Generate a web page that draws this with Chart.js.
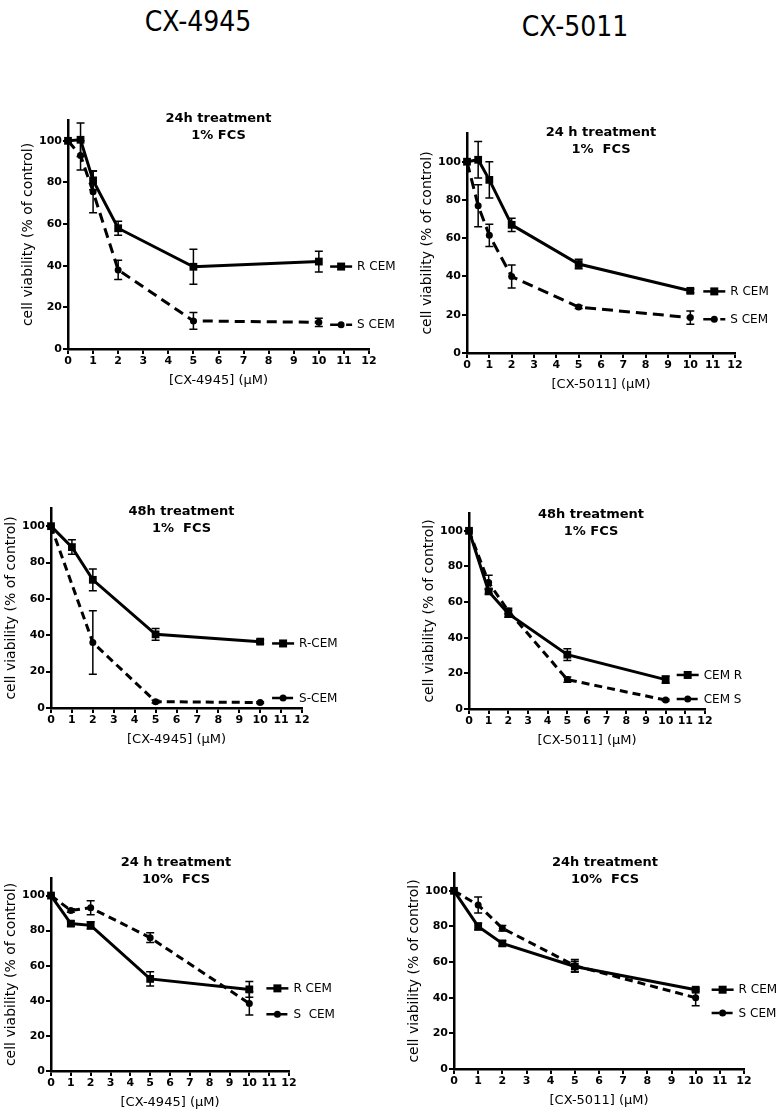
<!DOCTYPE html>
<html>
<head>
<meta charset="utf-8">
<script src="https://cdn.jsdelivr.net/npm/chart.js@4.4.1/dist/chart.umd.min.js"></script>
<style>
  body { margin: 0; background: #fff; }
  #page { position: relative; width: 783px; height: 1113px; overflow: hidden; }
  #page canvas { position: absolute; }
  .head { position: absolute; font-family: "DejaVu Sans Condensed", "DejaVu Sans"; font-stretch: condensed;
          font-size: 28px; transform: translate(-50%, -50%); white-space: nowrap; }
</style>
</head>
<body>
<div id="page">
  <div class="head" style="left:198px; top:21px;">CX-4945</div>
  <div class="head" style="left:575px; top:26px;">CX-5011</div>
</div>
<script>
// Data (concentration in uM, viability in % of control, +/- error)
const concA = [0, 0.5, 1, 2, 5, 10];
const rA = [100, 100.5, 81, 58, 39.5, 42];
const rErrA = [0, 8, 4.5, 3.4, 8.4, 5];
const sA = [100, 93, 75.5, 38, 13.5, 12.8];
const sErrA = [0, 7, 10, 4.6, 4, 2];

const concB = [0, 0.5, 1, 2, 5, 10];
const rB = [100, 101, 90.5, 67, 46.5, 32.5];
const rErrB = [0, 9.5, 9.5, 3.5, 2.5, 1];
const sB = [100, 77, 61.5, 40, 24, 18.5];
const sErrB = [0, 11, 5.8, 6, 0.8, 3.5];

const concC = [0, 1, 2, 5, 10];
const rC = [100, 88.5, 70.5, 40.5, 36.5];
const rErrC = [0, 4, 6, 3.2, 1];
const sC = [100, null, 36, 3.5, 3];
const sErrC = [0, 0, 17.5, 0.8, 0.5];

const concD = [0, 1, 2, 5, 10];
const rD = [100, 66, 53.5, 30.5, 16.5];
const rErrD = [0, 1.5, 2, 3.3, 2];
const sD = [100, 71, 55, 16.5, 5];
const sErrD = [0, 4, 1.5, 1.5, 0.5];

const concE = [0, 1, 2, 5, 10];
const rE = [100, 84, 83, 52.5, 46.5];
const rErrE = [0, 1.5, 2, 4, 4.5];
const sE = [100, 91.5, 93, 76, 38.5];
const sErrE = [0, 1, 4, 2.8, 6.6];

const concF = [0, 1, 2, 5, 10];
const rF = [100, 80, 70.5, 57.5, 44.5];
const rErrF = [0, 2, 1.5, 3, 1];
const sF = [100, 92, 79, 58, 40];
const sErrF = [0, 4.5, 1.5, 3.5, 4.5];

const xTicks = [0, 1, 2, 3, 4, 5, 6, 7, 8, 9, 10, 11, 12];
const yTicks = [0, 20, 40, 60, 80, 100];

// Panel layout (pixel box of the plot area, title and legend placement)
const panels = [
  { conc: concA, r: rA, rErr: rErrA, s: sA, sErr: sErrA, labels: ['R CEM', 'S CEM'],
    title: ['24h treatment', '1% FCS'], xTitle: '[CX-4945] (μM)',
    box: [68, 369, 120, 349], ymax: 110, titleDy: -1, titleDx: 0,
    legendX: 10.45, legendY: [39.6, 11.6], dash: [10, 6] },
  { conc: concB, r: rB, rErr: rErrB, s: sB, sErr: sErrB, labels: ['R CEM', 'S CEM'],
    title: ['24 h treatment', '1%  FCS'], xTitle: '[CX-5011] (μM)',
    box: [467, 735, 133, 353], ymax: 115, titleDy: 0, titleDx: 0,
    legendX: 10.58, legendY: [32.2, 17.7], dash: [11, 6] },
  { conc: concC, r: rC, rErr: rErrC, s: sC, sErr: sErrC, labels: ['R-CEM', 'S-CEM'],
    title: ['48h treatment', '1%  FCS'], xTitle: '[CX-4945] (μM)',
    box: [51, 302, 508, 708], ymax: 110, titleDy: 4, titleDx: 5,
    legendX: 10.57, legendY: [35.5, 5.5], dash: [8, 5] },
  { conc: concD, r: rD, rErr: rErrD, s: sD, sErr: sErrD, labels: ['CEM R', 'CEM S'],
    title: ['48h treatment', '1% FCS'], xTitle: '[CX-5011] (μM)',
    box: [469, 705, 513, 709], ymax: 110, titleDy: 2, titleDx: 4,
    legendX: 10.56, legendY: [19.1, 5.6], dash: [8, 5] },
  { conc: concE, r: rE, rErr: rErrE, s: sE, sErr: sErrE, labels: ['R CEM', 'S  CEM'],
    title: ['24 h treatment', '10%  FCS'], xTitle: '[CX-4945] (μM)',
    box: [51, 289, 878, 1071], ymax: 110, titleDy: -15, titleDx: 6,
    legendX: 10.86, legendY: [47.1, 32.3], dash: [8, 5] },
  { conc: concF, r: rF, rErr: rErrF, s: sF, sErr: sErrF, labels: ['R CEM', 'S CEM'],
    title: ['24h treatment', '10%  FCS'], xTitle: '[CX-5011] (μM)',
    box: [454, 744, 873, 1069], ymax: 110, titleDy: -10, titleDx: 6,
    legendX: 10.66, legendY: [44.5, 31.4], dash: [8, 5] }
];

const Y_W = 48, X_H = 39, PAD_T = 30, PAD_R = 50;
const FONT = '"DejaVu Sans", sans-serif';

// Error bars with caps
const errorBars = {
  id: 'errorBars',
  afterDatasetsDraw(chart) {
    const { ctx, scales: { x, y } } = chart;
    ctx.save();
    ctx.strokeStyle = '#000';
    ctx.lineWidth = 1.5;
    chart.data.datasets.forEach(ds => {
      ds.data.forEach((p, j) => {
        const e = ds.errors[j];
        if (p.y == null || !e) return;
        const px = x.getPixelForValue(p.x);
        const top = y.getPixelForValue(p.y + e);
        const bot = y.getPixelForValue(p.y - e);
        ctx.beginPath();
        ctx.moveTo(px, top); ctx.lineTo(px, bot);
        ctx.moveTo(px - 4, top); ctx.lineTo(px + 4, top);
        ctx.moveTo(px - 4, bot); ctx.lineTo(px + 4, bot);
        ctx.stroke();
      });
    });
    ctx.restore();
  }
};

// Panel title and legend entries drawn inside the plot
const panelText = {
  id: 'panelText',
  afterDraw(chart, args, opts) {
    const { ctx, chartArea: a, scales: { x, y } } = chart;
    ctx.save();
    ctx.fillStyle = '#000';
    ctx.strokeStyle = '#000';
    ctx.textBaseline = 'middle';
    ctx.textAlign = 'center';
    ctx.font = 'bold 13px ' + FONT;
    const cx = (a.left + a.right) / 2 + opts.titleDx;
    opts.title.forEach((t, k) => ctx.fillText(t, cx, a.top + opts.titleDy + k * 17));

    ctx.textAlign = 'left';
    ctx.font = '12px ' + FONT;
    chart.data.datasets.forEach((ds, i) => {
      const lx = x.getPixelForValue(opts.legendX);
      const ly = y.getPixelForValue(opts.legendY[i]);
      ctx.lineWidth = 2.5;
      ctx.setLineDash(ds.borderDash || []);
      ctx.beginPath();
      ctx.moveTo(lx, ly); ctx.lineTo(lx + 22, ly);
      ctx.stroke();
      ctx.setLineDash([]);
      ctx.beginPath();
      if (ds.pointStyle === 'rect') ctx.rect(lx + 7, ly - 4, 8, 8);
      else ctx.arc(lx + 11, ly, 3.5, 0, Math.PI * 2);
      ctx.fill();
      ctx.fillText(ds.label, lx + 27, ly + 0.5);
    });
    ctx.restore();
  }
};

const page = document.getElementById('page');

panels.forEach(p => {
  const [left, right, top, bottom] = p.box;
  const cLeft = left - Y_W, cTop = top - PAD_T;
  const w = right - cLeft + PAD_R, h = bottom - cTop + X_H;
  const canvas = document.createElement('canvas');
  canvas.width = w; canvas.height = h;
  canvas.style.left = cLeft + 'px';
  canvas.style.top = cTop + 'px';
  page.appendChild(canvas);

  const pts = (xs, ys) => xs.map((v, i) => ({ x: v, y: ys[i] }));

  new Chart(canvas, {
    type: 'line',
    data: {
      datasets: [
        { label: p.labels[0], data: pts(p.conc, p.r), errors: p.rErr,
          borderColor: '#000', backgroundColor: '#000', borderWidth: 3, clip: false,
          pointStyle: 'rect', pointRadius: 5.5, pointBorderWidth: 0, tension: 0 },
        { label: p.labels[1], data: pts(p.conc, p.s), errors: p.sErr,
          borderColor: '#000', backgroundColor: '#000', borderWidth: 3, borderDash: p.dash, clip: false,
          pointStyle: 'circle', pointRadius: 3.5, pointBorderWidth: 0, tension: 0, spanGaps: true }
      ]
    },
    options: {
      responsive: false,
      animation: false,
      layout: { padding: { top: PAD_T, right: PAD_R, left: 0, bottom: 0 } },
      plugins: {
        legend: { display: false },
        tooltip: { enabled: false },
        panelText: { title: p.title, titleDy: p.titleDy, titleDx: p.titleDx,
                     legendX: p.legendX, legendY: p.legendY }
      },
      scales: {
        x: {
          type: 'linear', min: 0, max: 12,
          afterFit: s => { s.height = X_H; },
          afterBuildTicks: s => { s.ticks = xTicks.map(v => ({ value: v })); },
          grid: { drawOnChartArea: false, drawTicks: true, tickLength: 5, color: '#000', lineWidth: 2 },
          border: { color: '#000', width: 2.5 },
          ticks: { color: '#000', padding: 1, maxRotation: 0, autoSkip: false,
                   font: { family: FONT, size: 11, weight: 'bold' } },
          title: { display: true, text: p.xTitle, color: '#000', padding: 0,
                   font: { family: FONT, size: 13 } }
        },
        y: {
          min: 0, max: p.ymax,
          afterFit: s => { s.width = Y_W; },
          afterBuildTicks: s => { s.ticks = yTicks.map(v => ({ value: v })); },
          grid: { drawOnChartArea: false, drawTicks: true, tickLength: 5, color: '#000', lineWidth: 2 },
          border: { color: '#000', width: 2.5 },
          ticks: { color: '#000', padding: 1,
                   font: { family: FONT, size: 11, weight: 'bold' } },
          title: { display: true, text: 'cell viability (% of control)', color: '#000', padding: 0,
                   font: { family: FONT, size: 14 } }
        }
      }
    },
    plugins: [errorBars, panelText]
  });
});
</script>
</body>
</html>
